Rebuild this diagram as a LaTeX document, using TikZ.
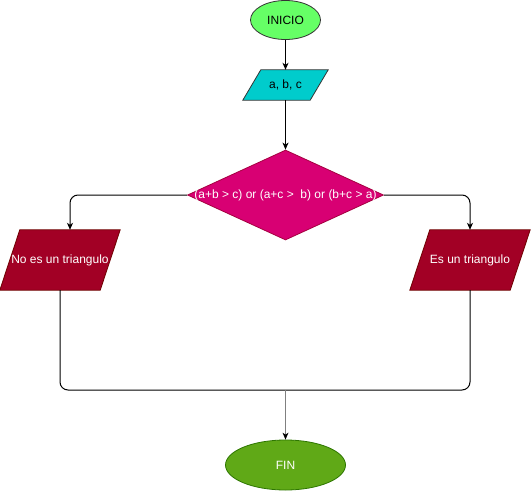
\documentclass[tikz,border=0pt]{standalone}
\usepackage{fontspec}
\setmainfont{Liberation Sans}
\usetikzlibrary{shapes.geometric,arrows.meta,calc}
\pgfdeclarelayer{bg}
\pgfsetlayers{bg,main}
\definecolor{inifill}{HTML}{66FF66}
\definecolor{abcfill}{HTML}{00CCCC}
\definecolor{decfill}{HTML}{D80073}
\definecolor{decline}{HTML}{A50040}
\definecolor{redfill}{HTML}{A20025}
\definecolor{redline}{HTML}{6F0000}
\definecolor{finfill}{HTML}{60A917}
\definecolor{finline}{HTML}{2D7600}
\tikzset{
  every node/.style={font=\fontsize{12pt}{14pt}\selectfont, inner sep=0pt},
  conn/.style={line width=1pt, draw=black, -{Stealth[length=7pt,width=6pt,inset=2pt]}},
  plainconn/.style={line width=1pt, draw=black, rounded corners=8pt},
  oval/.style={ellipse, line width=0.8pt},
  parabox/.style={rectangle, text=white},
  parashape/.style={line width=0.8pt},
}
\begin{document}
\begin{tikzpicture}[x=1pt,y=-1pt]
\useasboundingbox (0,0) rectangle (531,491);
\node[oval, fill=inifill, draw=black!80, minimum width=70pt, minimum height=39pt] (ini) at (285.5,20) {INICIO};
\node[parabox, text=black, minimum width=85pt, minimum height=30pt] (abc) at (285.5,85) {a, b, c};
\node[diamond, fill=decfill, draw=decline, line width=0.8pt, minimum width=196pt, minimum height=90pt] (dec) at (285.5,195)
  {\textcolor{white}{\makebox[0pt]{(a+b > c) or (a+c >\ \ b) or (b+c > a)}}};
\node[parabox, minimum width=120pt, minimum height=60pt] (no) at (60,260) {No es un triangulo};
\node[parabox, minimum width=120pt, minimum height=60pt] (yes) at (470,260) {Es un triangulo};
\node[oval, fill=finfill, draw=finline, minimum width=120pt, minimum height=50pt] (fin) at (285.5,465)
  {\textcolor{white}{FIN}};
\begin{pgfonlayer}{bg}
\draw[parashape, fill=abcfill, draw=black!80] (abc.south west) -- ($(abc.south east)+(-18,0)$) -- (abc.north east) -- ($(abc.north west)+(18,0)$) -- cycle;
\draw[parashape, fill=redfill, draw=redline] (no.south west) -- ($(no.south east)+(-20,0)$) -- (no.north east) -- ($(no.north west)+(20,0)$) -- cycle;
\draw[parashape, fill=redfill, draw=redline] (yes.south west) -- ($(yes.south east)+(-20,0)$) -- (yes.north east) -- ($(yes.north west)+(20,0)$) -- cycle;
\end{pgfonlayer}
\coordinate (m) at (285.5,390);
\coordinate (notop) at ($(no.north)+(10,0)$);
\draw[conn] (ini) -- (abc);
\draw[conn] (abc) -- (dec);
\draw[conn, rounded corners=8pt] (dec.west) -| (notop);
\draw[conn, rounded corners=8pt] (dec.east) -| (yes.north);
\draw[plainconn] (no.south) |- (m) -| (yes.south);
\draw[line width=1.6pt, draw=black!50, -{Stealth[length=7pt,width=6pt,inset=2pt,color=black,line width=0pt]}] (m) -- (fin);
\end{tikzpicture}
\end{document}
